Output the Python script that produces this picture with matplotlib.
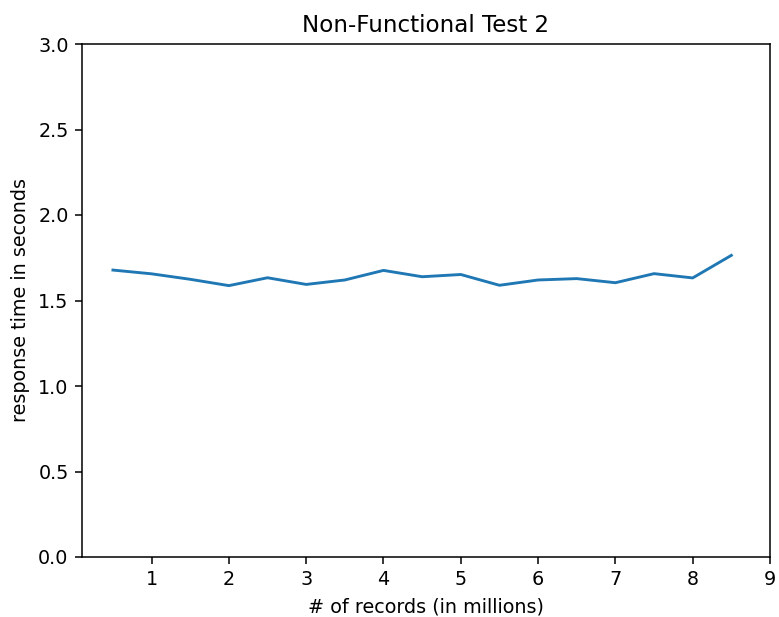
import matplotlib
matplotlib.use("Agg")
import matplotlib.pyplot as plt

records = [0.5, 1.0, 1.5, 2.0, 2.5, 3.0, 3.5, 4.0, 4.5, 5.0, 5.5, 6.0, 6.5, 7.0, 7.5, 8.0, 8.5]
response_time = [1.678, 1.656, 1.624, 1.587, 1.633, 1.594, 1.620, 1.676, 1.639, 1.652,
                 1.589, 1.620, 1.628, 1.604, 1.657, 1.632, 1.764]

DPI = 138


def main():
    fig = plt.figure(figsize=(779 / DPI, 617 / DPI), dpi=DPI)
    ax = fig.add_axes([82 / 779, 1 - 557 / 617, (770 - 82) / 779, (557 - 44) / 617])
    ax.plot(records, response_time)
    ax.set_xlim(0.1, 9)
    ax.set_ylim(0, 3)
    ax.set_xticks(range(1, 10))
    ax.set_xlabel("# of records (in millions)")
    ax.set_ylabel("response time in seconds")
    ax.set_title("Non-Functional Test 2")
    fig.savefig("out.png", dpi=DPI)


if __name__ == "__main__":
    main()
